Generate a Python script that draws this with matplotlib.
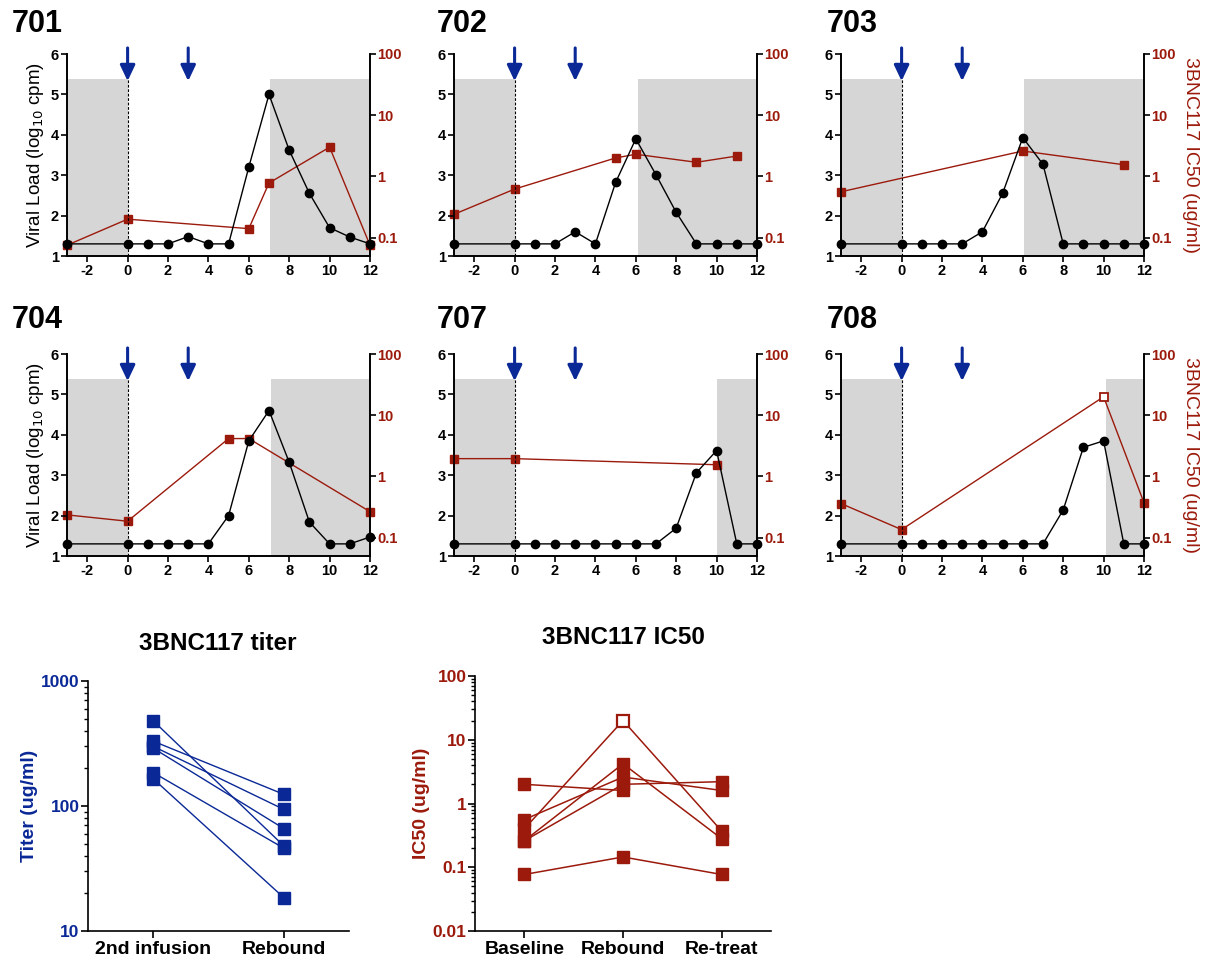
import numpy as np
import matplotlib
matplotlib.use("Agg")
import matplotlib.pyplot as plt
from matplotlib.ticker import FixedLocator, LogLocator, NullFormatter, NullLocator

plt.rcParams["font.family"] = ["Liberation Sans", "DejaVu Sans"]
plt.rcParams["axes.unicode_minus"] = False

RED = "#9b1a0c"
BLUE = "#0a2896"
GRAY = "#d6d6d6"

# weeks relative to 2nd infusion
weeks = [-3, 0, 1, 2, 3, 4, 5, 6, 7, 8, 9, 10, 11, 12]

# viral load, log10 copies/ml
vl_701 = [1.3, 1.3, 1.3, 1.3, 1.48, 1.3, 1.3, 3.2, 5.0, 3.62, 2.55, 1.70, 1.47, 1.3]
vl_702 = [1.3, 1.3, 1.3, 1.3, 1.6, 1.3, 2.82, 3.9, 3.01, 2.08, 1.3, 1.3, 1.3, 1.3]
vl_703 = [1.3, 1.3, 1.3, 1.3, 1.3, 1.6, 2.55, 3.93, 3.27, 1.3, 1.3, 1.3, 1.3, 1.3]
vl_704 = [1.3, 1.3, 1.3, 1.3, 1.3, 1.3, 2.0, 3.85, 4.6, 3.32, 1.84, 1.3, 1.3, 1.47]
vl_707 = [1.3, 1.3, 1.3, 1.3, 1.3, 1.3, 1.3, 1.3, 1.3, 1.69, 3.06, 3.61, 1.3, 1.3]
vl_708 = [1.3, 1.3, 1.3, 1.3, 1.3, 1.3, 1.3, 1.3, 1.3, 2.14, 3.69, 3.85, 1.3, 1.3]

# 3BNC117 IC50 (ug/ml) of bulk virus
ic_wk_701 = [-3, 0, 6, 7, 10, 12]
ic_701 = [0.075, 0.20, 0.14, 0.78, 3.0, 0.075]
ic_wk_702 = [-3, 0, 5, 6, 9, 11]
ic_702 = [0.24, 0.62, 2.0, 2.3, 1.7, 2.15]
ic_wk_703 = [-3, 6, 11]
ic_703 = [0.56, 2.6, 1.55]
ic_wk_704 = [-3, 0, 5, 6, 12]
ic_704 = [0.235, 0.185, 4.15, 4.15, 0.265]
ic_wk_707 = [-3, 0, 10]
ic_707 = [1.95, 1.95, 1.55]
ic_wk_708 = [-3, 0, 10, 12]
ic_708 = [0.36, 0.135, 20.0, 0.37]
# IC50 above highest tested concentration (open symbol)
ic_open_708 = [False, False, True, False]

# start of ART re-treatment (week)
art_start = {"701": 7.05, "702": 6.1, "703": 6.05, "704": 7.1, "707": 10.0, "708": 10.1}
infusion_weeks = [0, 3]

# summary panels
titer_groups = ["2nd infusion", "Rebound"]
titer_2nd = [480, 330, 300, 290, 185, 165]
titer_rebound = [48, 124, 94, 66, 46, 18.5]

ic50_groups = ["Baseline", "Rebound", "Re-treat"]
ic50_baseline = [0.077, 0.26, 0.56, 0.26, 2.0, 0.40]
ic50_rebound = [0.145, 2.0, 2.6, 4.2, 1.6, 20.0]
ic50_retreat = [0.077, 2.2, 1.6, 0.28, np.nan, 0.37]
ic50_rebound_open = [False, False, False, False, False, True]

patients = {
    "701": (vl_701, ic_wk_701, ic_701, None),
    "702": (vl_702, ic_wk_702, ic_702, None),
    "703": (vl_703, ic_wk_703, ic_703, None),
    "704": (vl_704, ic_wk_704, ic_704, None),
    "707": (vl_707, ic_wk_707, ic_707, None),
    "708": (vl_708, ic_wk_708, ic_708, ic_open_708),
}

W, H = 1211, 961
fig = plt.figure(figsize=(W / 100, H / 100), dpi=100)


def px_rect(l, t, r, b):
    return [l / W, 1 - b / H, (r - l) / W, (b - t) / H]


cols = [(67, 370), (454, 757), (841, 1144)]
rows = [(54, 256), (354, 556)]
label_x = [12, 437, 827]
label_y = [24, 320]

shade_top = 5.38

for i, (pid, (vl, ic_wk, ic, ic_open)) in enumerate(patients.items()):
    r, c = divmod(i, 3)
    l, rr = cols[c]
    t, b = rows[r]
    ax = fig.add_axes(px_rect(l, t, rr, b))
    ax2 = ax.twinx()
    ax.set_zorder(ax2.get_zorder() + 1)
    ax.patch.set_visible(False)

    # shaded ART periods (in twin so the IC50 line sits over them)
    frac = (shade_top - 1) / 5
    ax2.axvspan(-3, 0, ymin=0, ymax=frac, color=GRAY, lw=0, zorder=0)
    ax2.axvspan(art_start[pid], 12, ymin=0, ymax=frac, color=GRAY, lw=0, zorder=0)

    ax2.plot(ic_wk, ic, color=RED, lw=1, zorder=2, clip_on=False)
    mask = np.array(ic_open if ic_open else [False] * len(ic))
    icw = np.array(ic_wk)
    icv = np.array(ic)
    ax2.plot(icw[~mask], icv[~mask], "s", color=RED, ms=6, zorder=3, clip_on=False)
    if mask.any():
        ax2.plot(icw[mask], icv[mask], "s", mfc="white", mec=RED, mew=1.3, ms=6,
                 zorder=3, clip_on=False)
    ax2.set_yscale("log")
    ax2.set_ylim(0.05, 100)
    ax2.yaxis.set_major_locator(FixedLocator([0.1, 1, 10, 100]))
    ax2.yaxis.set_minor_locator(NullLocator())
    ax2.set_yticklabels(["0.1", "1", "10", "100"])
    ax2.tick_params(axis="y", colors="black", labelcolor=RED, labelsize=10.5,
                    width=1.2, length=4, pad=1)
    for lab in ax2.get_yticklabels():
        lab.set_fontweight("bold")

    ax.plot(weeks, vl, "-o", color="black", lw=1, ms=6, zorder=4, clip_on=False)
    ax.plot([0, 0], [1, shade_top], ls=(0, (2.5, 1.5)), color="black", lw=0.8, zorder=2)
    for wk in infusion_weeks:
        ax.annotate("", xy=(wk, 5.33), xytext=(wk, 6.15),
                    arrowprops=dict(arrowstyle="-|>,head_width=0.45,head_length=0.95",
                                    color=BLUE, lw=2.2, shrinkA=0, shrinkB=0),
                    annotation_clip=False, zorder=5)

    ax.set_xlim(-3, 12)
    ax.set_ylim(1, 6)
    ax.set_xticks([-2, 0, 2, 4, 6, 8, 10, 12])
    ax.set_yticks([1, 2, 3, 4, 5, 6])
    ax.tick_params(labelsize=10.5, width=1.2, length=4, pad=2)
    for lab in ax.get_xticklabels() + ax.get_yticklabels():
        lab.set_fontweight("bold")
    for a in (ax, ax2):
        a.spines["top"].set_visible(False)
        for s in ("left", "bottom", "right"):
            a.spines[s].set_linewidth(1.2)

    if c == 0:
        ax.set_ylabel("Viral Load (log$_{10}$ cpm)", fontsize=13.5, labelpad=3)
    if c == 2:
        ax2.set_ylabel("3BNC117 IC50 (ug/ml)", fontsize=14, color=RED,
                       rotation=270, labelpad=17)

    fig.text(label_x[c] / W, 1 - label_y[r] / H, pid, fontsize=22, fontweight="bold",
             ha="left", va="center")

# 3BNC117 titer at 2nd infusion vs rebound
axt = fig.add_axes(px_rect(88, 681, 349, 931))
for a, b in zip(titer_2nd, titer_rebound):
    axt.plot([0, 1], [a, b], "-s", color=BLUE, lw=1, ms=9, clip_on=False)
axt.set_yscale("log")
axt.set_ylim(10, 1000)
axt.set_xlim(-0.5, 1.5)
axt.set_xticks([0, 1])
axt.set_xticklabels(titer_groups, fontsize=14, fontweight="bold")
axt.yaxis.set_major_locator(FixedLocator([10, 100, 1000]))
axt.set_yticklabels(["10", "100", "1000"])
axt.yaxis.set_minor_locator(LogLocator(base=10, subs=np.arange(2, 10)))
axt.yaxis.set_minor_formatter(NullFormatter())
axt.tick_params(axis="y", labelcolor=BLUE, labelsize=12.5, width=1.2, length=5, pad=1)
axt.tick_params(axis="y", which="minor", width=1, length=3)
axt.tick_params(axis="x", width=1.2, length=5, pad=2)
for lab in axt.get_yticklabels():
    lab.set_fontweight("bold")
axt.set_ylabel("Titer (ug/ml)", fontsize=14, fontweight="bold", color=BLUE, labelpad=2)
axt.spines[["top", "right"]].set_visible(False)
axt.spines[["left", "bottom"]].set_linewidth(1.2)
fig.text(218 / W, 1 - 643 / H, "3BNC117 titer", fontsize=17.5, fontweight="bold",
         ha="center", va="center")

# 3BNC117 IC50 at baseline, rebound and re-treatment
axi = fig.add_axes(px_rect(475, 676, 771, 931))
for a, b, c, op in zip(ic50_baseline, ic50_rebound, ic50_retreat, ic50_rebound_open):
    vals = np.array([a, b, c])
    xs = np.arange(3)
    ok = ~np.isnan(vals)
    axi.plot(xs[ok], vals[ok], "-", color=RED, lw=1.1)
    filled = ok.copy()
    if op:
        filled[1] = False
        axi.plot([1], [b], "s", mfc="white", mec=RED, mew=1.6, ms=9, zorder=3)
    axi.plot(xs[filled], vals[filled], "s", color=RED, ms=9, zorder=3)
axi.set_yscale("log")
axi.set_ylim(0.01, 100)
axi.set_xlim(-0.5, 2.5)
axi.set_xticks([0, 1, 2])
axi.set_xticklabels(ic50_groups, fontsize=14, fontweight="bold")
axi.yaxis.set_major_locator(FixedLocator([0.01, 0.1, 1, 10, 100]))
axi.set_yticklabels(["0.01", "0.1", "1", "10", "100"])
axi.yaxis.set_minor_locator(LogLocator(base=10, subs=np.arange(2, 10)))
axi.yaxis.set_minor_formatter(NullFormatter())
axi.tick_params(axis="y", labelcolor=RED, labelsize=12.5, width=1.2, length=5, pad=1)
axi.tick_params(axis="y", which="minor", width=1, length=3)
axi.tick_params(axis="x", width=1.2, length=5, pad=2)
for lab in axi.get_yticklabels():
    lab.set_fontweight("bold")
axi.set_ylabel("IC50 (ug/ml)", fontsize=14, fontweight="bold", color=RED, labelpad=2)
axi.spines[["top", "right"]].set_visible(False)
axi.spines[["left", "bottom"]].set_linewidth(1.2)
fig.text(623 / W, 1 - 638 / H, "3BNC117 IC50", fontsize=17.5, fontweight="bold",
         ha="center", va="center")

fig.savefig("out.png", dpi=100)
